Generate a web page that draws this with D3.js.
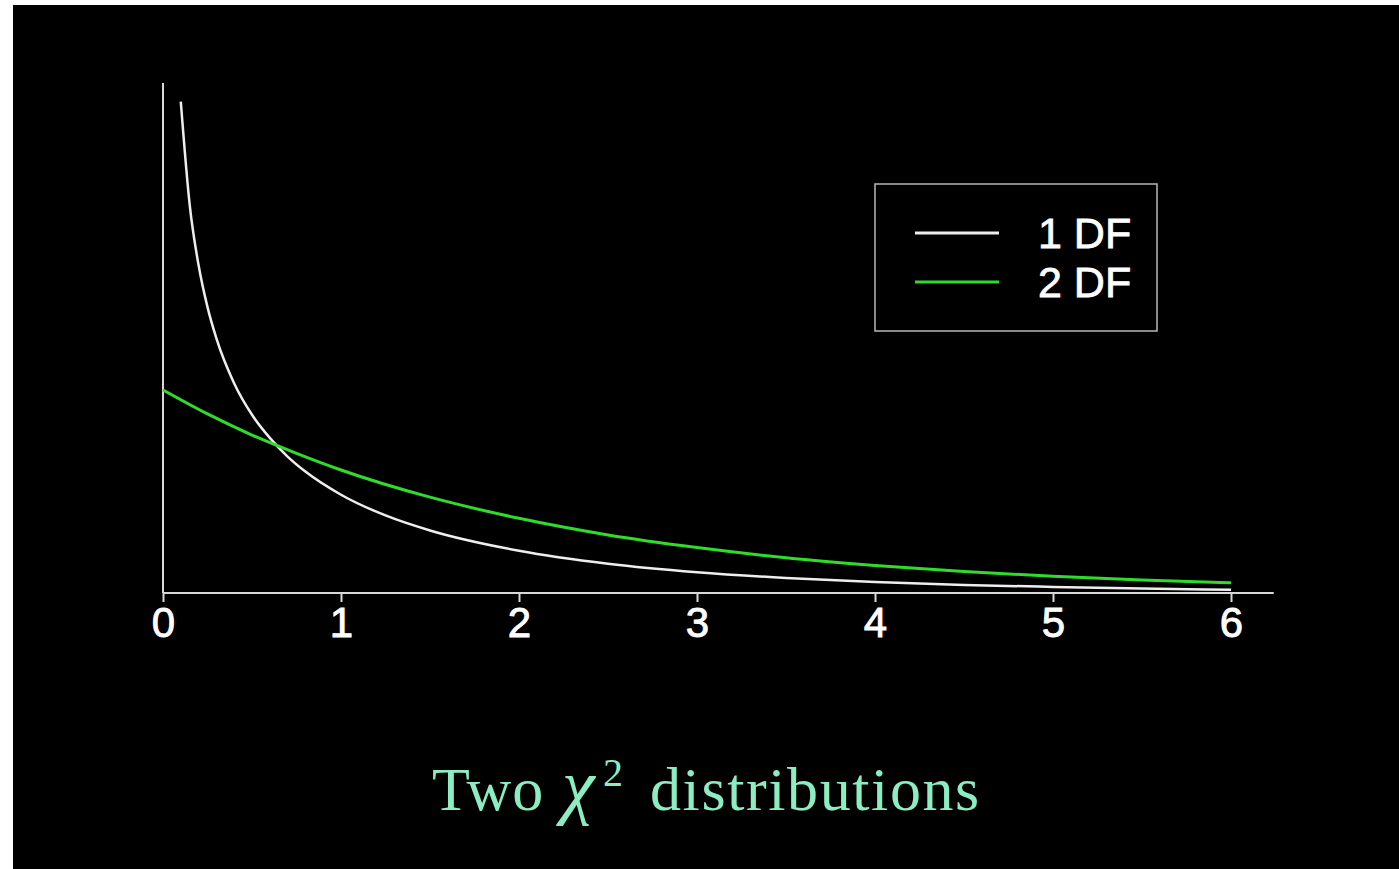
<!DOCTYPE html>
<html>
<head>
<meta charset="utf-8">
<script src="https://cdn.jsdelivr.net/npm/d3@7"></script>
<style>
  html, body { margin: 0; padding: 0; background: #fff; overflow: hidden; }
  svg { display: block; }
</style>
</head>
<body>
<div id="main"></div>
<script>
// values
const xTicks = [0, 1, 2, 3, 4, 5, 6];

const df1X = [0.1, 0.15, 0.2, 0.25, 0.3, 0.4, 0.5, 0.6, 0.7, 0.8, 1.0, 1.25, 1.5, 2, 2.5, 3, 3.5, 4, 4.5, 5, 5.5, 6];
const df1Y = [1.21, 0.956, 0.807, 0.704, 0.627, 0.516, 0.439, 0.382, 0.336, 0.299, 0.242, 0.191, 0.154, 0.104, 0.072, 0.051, 0.037, 0.027, 0.020, 0.015, 0.011, 0.008];

const df2X = [0, 0.25, 0.5, 0.75, 1, 1.5, 2, 2.5, 3, 3.5, 4, 4.5, 5, 5.5, 6];
const df2Y = [0.5, 0.441, 0.389, 0.344, 0.303, 0.236, 0.184, 0.143, 0.112, 0.087, 0.068, 0.053, 0.041, 0.032, 0.025];

const seriesNames = ["1 DF", "2 DF"];
const seriesColors = ["#eeeeee", "#2fdc2a"];

const W = 1399, H = 869;

const svg = d3.select("#main").append("svg")
  .attr("width", W)
  .attr("height", H);

// black frame (screenshot has a thin white strip top/left)
svg.append("rect")
  .attr("x", 13).attr("y", 5)
  .attr("width", W - 13).attr("height", H - 5)
  .attr("fill", "#000");

const xScale = d3.scaleLinear().domain([0, 6]).range([163, 1231]);
const yScale = d3.scaleLinear().domain([0, 1.256]).range([593, 83]);

// x axis
const xAxis = d3.axisBottom(xScale)
  .tickValues(xTicks)
  .tickFormat(d3.format("d"))
  .tickSize(9)
  .tickPadding(5);

const gx = svg.append("g")
  .attr("transform", `translate(0,${yScale(0)})`)
  .call(xAxis);
gx.select(".domain").remove();
gx.selectAll(".tick line").attr("stroke", "#d8d8d8").attr("stroke-width", 2);
gx.selectAll(".tick text")
  .attr("fill", "#fff")
  .attr("stroke", "#fff")
  .attr("stroke-width", 0.9)
  .style("font-family", "'Liberation Sans', Arial, sans-serif")
  .style("font-size", "42px");

svg.append("line")
  .attr("x1", xScale(0)).attr("x2", xScale(6.24))
  .attr("y1", yScale(0)).attr("y2", yScale(0))
  .attr("stroke", "#d8d8d8").attr("stroke-width", 2);

// y axis (no ticks)
svg.append("line")
  .attr("x1", xScale(0)).attr("x2", xScale(0))
  .attr("y1", yScale(0)).attr("y2", yScale(1.256))
  .attr("stroke", "#d8d8d8").attr("stroke-width", 2);

const line = d3.line()
  .x(d => xScale(d[0]))
  .y(d => yScale(d[1]))
  .curve(d3.curveMonotoneX);

const series = [
  d3.zip(df1X, df1Y),
  d3.zip(df2X, df2Y)
];

svg.selectAll("path.curve")
  .data(series)
  .join("path")
  .attr("class", "curve")
  .attr("fill", "none")
  .attr("stroke", (d, i) => seriesColors[i])
  .attr("stroke-width", (d, i) => i === 0 ? 2.5 : 3)
  .attr("d", line);

// legend
const legend = svg.append("g").attr("transform", "translate(875,184)");
legend.append("rect")
  .attr("width", 282).attr("height", 147)
  .attr("fill", "#000")
  .attr("stroke", "#b8b8b8").attr("stroke-width", 1.5);

const items = legend.selectAll("g.item")
  .data(seriesNames)
  .join("g")
  .attr("class", "item")
  .attr("transform", (d, i) => `translate(0,${49 + i * 49})`);

items.append("line")
  .attr("x1", 40).attr("x2", 124)
  .attr("stroke", (d, i) => seriesColors[i])
  .attr("stroke-width", 3);

items.append("text")
  .attr("x", 163)
  .attr("y", 15)
  .attr("fill", "#fff")
  .attr("stroke", "#fff")
  .attr("stroke-width", 0.8)
  .style("font-family", "'Liberation Sans', Arial, sans-serif")
  .style("font-size", "43px")
  .text(d => d);

// title
const titleG = svg.append("g")
  .attr("fill", "#8cecc2")
  .style("font-family", "'Liberation Serif', 'Times New Roman', serif");
titleG.append("text")
  .attr("x", 432).attr("y", 810)
  .style("font-size", "62px")
  .style("letter-spacing", "1px")
  .text("Two");
titleG.append("text")
  .attr("x", 562).attr("y", 810)
  .style("font-size", "74px")
  .style("font-style", "italic")
  .text("χ");
titleG.append("text")
  .attr("x", 603).attr("y", 786)
  .style("font-size", "40px")
  .text("2");
titleG.append("text")
  .attr("x", 650).attr("y", 810)
  .style("font-size", "62px")
  .style("letter-spacing", "1.6px")
  .text("distributions");
</script>
</body>
</html>
